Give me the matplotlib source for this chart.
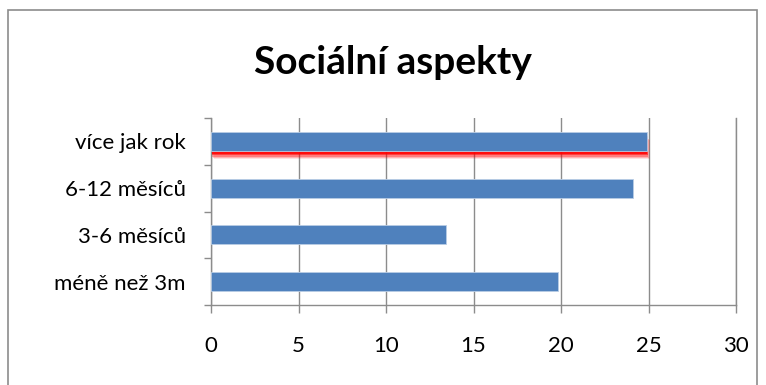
import matplotlib.pyplot as plt
import matplotlib.patheffects as pe
from matplotlib.patches import Rectangle

categories = ['méně než 3m', '3-6 měsíců', '6-12 měsíců', 'více jak rok']
values = [19.8, 13.4, 24.1, 24.9]
xticks = [0, 5, 10, 15, 20, 25, 30]

plt.rcParams['font.family'] = ['Lato', 'DejaVu Sans']

fig = plt.figure(figsize=(7.66, 3.85), dpi=100)
fig.patches.append(Rectangle((8 / 766, -0.1), 749 / 766, 1 - 10 / 385 + 0.1,
                             transform=fig.transFigure, fill=False,
                             edgecolor='#8c8c8c', linewidth=1.2))

ax = fig.add_axes([211 / 766, 1 - 305 / 385, 525 / 766, 187 / 385])
ypos = list(range(len(categories)))
bars = ax.barh(ypos, values, height=0.41, color='#4f81bd',
               edgecolor='#b9cde5', linewidth=0.6, zorder=3)

# red glow under the top bar
bars[-1].set_path_effects([
    pe.SimplePatchShadow(offset=(2, -6), shadow_rgbFace='red', alpha=0.12),
    pe.SimplePatchShadow(offset=(1.5, -5), shadow_rgbFace='red', alpha=0.2),
    pe.SimplePatchShadow(offset=(1, -4), shadow_rgbFace='red', alpha=0.3),
    pe.SimplePatchShadow(offset=(1, -3), shadow_rgbFace='red', alpha=0.5),
    pe.SimplePatchShadow(offset=(0.5, -2), shadow_rgbFace='red', alpha=0.8),
    pe.Normal()])

ax.set_xlim(0, 30)
ax.set_ylim(-0.5, len(categories) - 0.5)
ax.set_xticks(xticks)
ax.set_xticklabels([str(t) for t in xticks], fontsize=16)
ax.set_yticks(ypos)
ax.set_yticklabels(categories, fontsize=16)
ax.set_yticks([i - 0.5 for i in range(len(categories) + 1)], minor=True)
ax.tick_params(axis='y', which='major', length=0, pad=18)
ax.tick_params(axis='y', which='minor', length=5, color='#8c8c8c', width=1)
ax.tick_params(axis='x', length=6, color='#8c8c8c', width=1, pad=16)
ax.grid(axis='x', color='#8c8c8c', linewidth=1, zorder=0)

ax.spines['top'].set_visible(False)
for s in ['left', 'bottom', 'right']:
    ax.spines[s].set_color('#8c8c8c')
    ax.spines[s].set_linewidth(1)

fig.text(393 / 766, 1 - 62 / 385, 'Sociální aspekty', ha='center', va='center',
         fontsize=28, fontweight='bold')

fig.savefig('out.png', dpi=100)
